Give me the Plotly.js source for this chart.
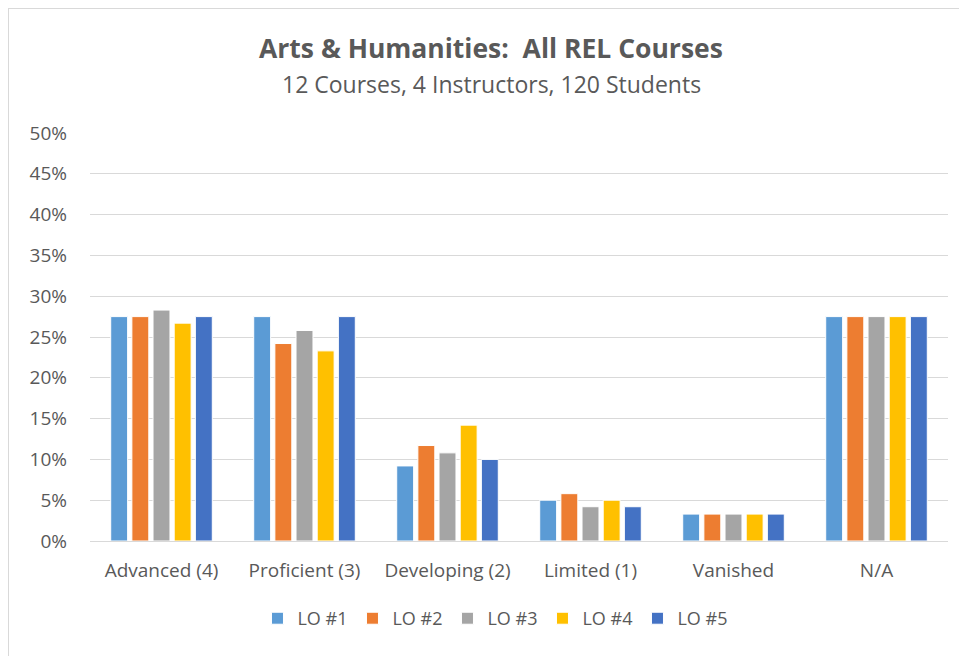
<!DOCTYPE html>
<html>
<head>
<meta charset="utf-8">
<script src="https://cdn.plot.ly/plotly-3.0.1.min.js"></script>
<style>
  html, body { margin: 0; padding: 0; background: #fff; }
  #wrap { position: relative; width: 959px; height: 656px; overflow: hidden; }
  #frame { position: absolute; left: 8px; top: 8px; width: 1000px; height: 700px;
           border-top: 1px solid #D9D9D9; border-left: 1px solid #D9D9D9; pointer-events: none; }
  #chart { position: absolute; left: 0; top: 0; width: 959px; height: 656px; }
</style>
</head>
<body>
<div id="wrap">
  <div id="chart"></div>
  <div id="frame"></div>
</div>
<script>
const categories = ["Advanced (4)", "Proficient (3)", "Developing (2)", "Limited (1)", "Vanished", "N/A"];
const seriesNames = ["LO #1", "LO #2", "LO #3", "LO #4", "LO #5"];
const lo1 = [0.275, 0.275, 0.092, 0.050, 0.033, 0.275];
const lo2 = [0.275, 0.242, 0.117, 0.058, 0.033, 0.275];
const lo3 = [0.283, 0.258, 0.108, 0.042, 0.033, 0.275];
const lo4 = [0.267, 0.233, 0.142, 0.050, 0.033, 0.275];
const lo5 = [0.275, 0.275, 0.100, 0.042, 0.033, 0.275];
const colors = ["#5B9BD5", "#ED7D31", "#A5A5A5", "#FFC000", "#4472C4"];
const yTickVals = [0, 0.05, 0.10, 0.15, 0.20, 0.25, 0.30, 0.35, 0.40, 0.45, 0.50];
const yTickText = ["0%", "5%", "10%", "15%", "20%", "25%", "30%", "35%", "40%", "45%", "50%"];

const allSeries = [lo1, lo2, lo3, lo4, lo5];
const FONT = "Open Sans, Lato, sans-serif";
const traces = allSeries.map((vals, i) => ({
  type: "bar",
  name: seriesNames[i],
  x: categories,
  y: vals,
  marker: { color: colors[i], line: { color: "#FFFFFF", width: 1 } },
  hoverinfo: "x+y+name"
}));

const layout = {
  width: 959, height: 656,
  margin: { l: 90, r: 11, t: 133, b: 115 },
  paper_bgcolor: "rgba(0,0,0,0)",
  plot_bgcolor: "rgba(0,0,0,0)",
  barmode: "group",
  bargap: 0.26,
  bargroupgap: 0.2,
  font: { family: FONT, color: "#595959", size: 18 },
  xaxis: {
    type: "category",
    showgrid: false,
    showline: false,
    ticks: "",
    ticklabelstandoff: 16,
    tickfont: { family: FONT, size: 19, color: "#595959" },
    fixedrange: true
  },
  yaxis: {
    range: [0, 0.5],
    tickvals: yTickVals,
    ticktext: yTickText,
    showgrid: true,
    gridcolor: "#D9D9D9",
    gridwidth: 1,
    zeroline: true,
    zerolinecolor: "#D9D9D9",
    zerolinewidth: 1,
    showline: false,
    ticks: "",
    ticklabelstandoff: 22,
    tickfont: { family: FONT, size: 19, color: "#595959" },
    fixedrange: true
  },
  showlegend: true,
  legend: {
    orientation: "h",
    x: 0.472, xanchor: "center",
    y: -0.19, yanchor: "middle",
    font: { family: FONT, size: 18, color: "#595959" },
    itemwidth: 30,
    traceorder: "normal"
  },
  annotations: [
    {
      text: "<b>Arts &amp; Humanities:\u00a0 All REL Courses</b>",
      xref: "paper", yref: "paper",
      x: 0.467, y: 1, xanchor: "center", yanchor: "middle",
      yshift: 85,
      showarrow: false,
      font: { family: FONT, size: 26.5, color: "#595959" }
    },
    {
      text: "12 Courses, 4 Instructors, 120 Students",
      xref: "paper", yref: "paper",
      x: 0.468, y: 1, xanchor: "center", yanchor: "middle",
      yshift: 49,
      showarrow: false,
      font: { family: FONT, size: 23, color: "#595959" }
    }
  ]
};

Plotly.newPlot("chart", traces, layout, { displayModeBar: false, staticPlot: true });
</script>
</body>
</html>
